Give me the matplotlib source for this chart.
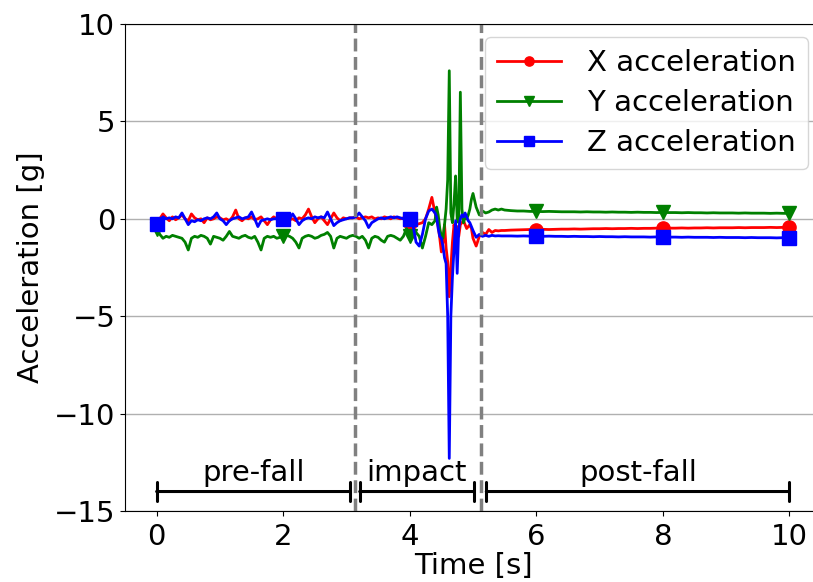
import numpy as np
import matplotlib
matplotlib.use("Agg")
import matplotlib.pyplot as plt

# time axis segments (s)
t_a = np.arange(0.0, 4.40 - 1e-9, 0.05)      # 0.00 .. 4.35
t_b = np.arange(4.40, 5.00 - 1e-9, 0.025)    # 4.400 .. 4.975
t_c = np.arange(5.00, 5.50 - 1e-9, 0.05)     # 5.00 .. 5.45
t_d = np.arange(5.5, 10.0 + 1e-9, 0.1)       # 5.5 .. 10.0
time = np.round(np.concatenate([t_a, t_b, t_c, t_d]), 3)

x_a = [-0.25, 0.0, 0.25, 0.05, -0.1, 0.1, -0.05, 0.05, 0.2, 0.0,
       -0.1, 0.25, 0.05, -0.05, 0.0, -0.2, 0.05, -0.05, 0.0, 0.1,
       0.05, -0.05, 0.0, -0.1, 0.1, 0.45, 0.0, -0.1, 0.05, 0.0,
       0.1, -0.05, 0.0, 0.1, -0.1, -0.3, -0.05, 0.1, 0.0, -0.05,
       0.0, 0.05, -0.05, 0.0, -0.1, 0.05, 0.0, 0.2, 0.5, 0.1,
       -0.2, 0.0, 0.1, -0.1, -0.3, 0.0, 0.3, 0.05, -0.1, 0.05,
       0.0, 0.05, 0.05, 0.1, 0.0, 0.05, 0.1, 0.05, 0.1, 0.0,
       0.05, 0.0, 0.1, 0.05, 0.0, 0.1, 0.05, 0.0, 0.05, -0.1,
       -0.2, -0.1, -0.3, -0.25, -0.2, 0.0, 0.5, 1.1]
x_b = [0.3, 0.0, -0.4, -1.0, -1.7, -1.2, -0.3, -1.5, -2.2, -4.0,
       -2.5, -1.2, -0.3, -0.8, -0.4, -0.9, -0.3, -0.2, -0.1, -0.3,
       -0.5, -0.4, -0.3, -0.5]
x_c = [-1.0, -1.4, -0.9, -0.7, -0.8, -0.55, -0.7, -0.6, -0.62, -0.6]
x_d = [-0.6, -0.58, -0.57, -0.56, -0.55, -0.55,
       -0.54, -0.55, -0.54, -0.53, -0.53,
       -0.52, -0.53, -0.52, -0.51, -0.51,
       -0.5, -0.51, -0.5, -0.5, -0.49,
       -0.5, -0.49, -0.49, -0.48, -0.49,
       -0.48, -0.48, -0.47, -0.48, -0.47,
       -0.47, -0.46, -0.47, -0.46, -0.46,
       -0.46, -0.45, -0.46, -0.45, -0.45,
       -0.45, -0.44, -0.45, -0.44, -0.44]

y_a = [-0.5, -0.8, -1.0, -0.9, -0.95, -0.85, -0.9, -0.95, -1.0, -1.2,
       -1.6, -1.0, -0.9, -0.95, -0.85, -0.9, -1.0, -1.3, -0.9, -0.95,
       -1.0, -1.1, -0.9, -0.65, -0.9, -0.95, -1.0, -0.9, -0.85, -0.95,
       -1.0, -0.9, -1.2, -1.6, -1.0, -0.9, -0.95, -0.9, -1.0, -0.95,
       -0.9, -0.85, -0.9, -1.0, -1.2, -1.5, -1.0, -0.9, -0.85, -0.9,
       -1.0, -0.95, -0.85, -0.8, -0.7, -0.9, -1.5, -1.0, -0.9, -0.95,
       -1.0, -0.9, -0.85, -0.9, -1.0, -0.9, -1.1, -1.5, -1.0, -0.9,
       -0.95, -1.1, -1.2, -0.9, -0.85, -0.9, -1.0, -1.1, -0.9, -0.5,
       -0.9, -0.8, -0.7, -0.9, -1.5, -0.9, -0.2, -0.3]
y_b = [-0.1, 0.6, 0.2, -0.5, -0.9, -1.0, -0.3, 0.5, 2.0, 7.6,
       0.3, -0.2, 0.8, 2.2, 0.0, -0.2, 6.5, 0.5, -0.2, 0.1,
       0.0, 0.2, 0.5, 1.0]
y_c = [1.3, 0.6, 0.2, 0.4, 0.3, 0.35, 0.45, 0.5, 0.45, 0.5]
y_d = [0.45, 0.42, 0.4, 0.4, 0.38, 0.38,
       0.37, 0.38, 0.37, 0.36, 0.36,
       0.36, 0.35, 0.36, 0.35, 0.35,
       0.34, 0.35, 0.34, 0.34, 0.33,
       0.34, 0.33, 0.33, 0.32, 0.33,
       0.32, 0.32, 0.31, 0.32, 0.31,
       0.31, 0.3, 0.31, 0.3, 0.3,
       0.3, 0.29, 0.3, 0.29, 0.29,
       0.29, 0.28, 0.29, 0.28, 0.28]

z_a = [-0.25, -0.2, 0.1, 0.0, 0.05, 0.0, 0.1, 0.05, 0.3, 0.0,
       -0.3, -0.1, -0.15, -0.05, -0.1, 0.0, 0.05, 0.0, 0.1, 0.3,
       0.0, -0.1, -0.3, -0.1, 0.0, 0.05, 0.1, 0.0, 0.05, 0.1,
       0.35, 0.0, -0.4, -0.1, -0.05, 0.0, -0.05, 0.0, 0.0, 0.05,
       0.0, -0.05, 0.0, 0.25, 0.0, -0.3, -0.1, 0.0, 0.05, 0.0,
       0.1, 0.05, 0.1, 0.05, 0.35, 0.0, -0.35, -0.2, -0.1, -0.05,
       0.0, 0.05, 0.05, 0.1, 0.3, 0.1, -0.1, -0.45, -0.2, -0.1,
       0.0, 0.05, 0.0, 0.05, 0.1, 0.05, 0.1, 0.05, 0.0, 0.0,
       0.0, -0.3, -1.2, -1.4, -0.8, 0.0, 0.4, 0.5]
z_b = [0.3, 0.1, -0.5, -0.9, -1.0, -1.4, -2.0, -2.3, -5.0, -12.3,
       -5.0, -3.0, -1.5, -0.1, -2.8, -0.5, 0.0, 0.2, 0.1, 0.3,
       0.1, -0.1, -0.2, -0.4]
z_c = [-0.6, -0.95, -0.8, -0.9, -0.85, -0.9, -0.85, -0.88, -0.87, -0.88]
z_d = [-0.88, -0.88, -0.89, -0.88, -0.89, -0.89,
       -0.9, -0.89, -0.9, -0.9, -0.91,
       -0.9, -0.91, -0.91, -0.92, -0.91,
       -0.92, -0.92, -0.93, -0.92, -0.93,
       -0.93, -0.93, -0.94, -0.93, -0.94,
       -0.94, -0.94, -0.95, -0.94, -0.95,
       -0.95, -0.95, -0.96, -0.95, -0.96,
       -0.96, -0.96, -0.97, -0.96, -0.97,
       -0.97, -0.97, -0.98, -0.97, -0.98]

acc_x = np.array(x_a + x_b + x_c + x_d)
acc_y = np.array(y_a + y_b + y_c + y_d)
acc_z = np.array(z_a + z_b + z_c + z_d)

marker_times = [0, 2, 4, 6, 8, 10]
phase_bounds = [3.13, 5.13]
phases = [("pre-fall", 0.0, 3.05), ("impact", 3.21, 5.01), ("post-fall", 5.21, 10.0)]
labels = ["X acceleration", "Y acceleration", "Z acceleration"]

FS = 21
plt.rcParams['font.family'] = ['DejaVu Sans']

fig = plt.figure(figsize=(8.13, 5.82), dpi=100)
ax = fig.add_axes([125 / 813, 71 / 582, 696 / 813, 487 / 582])

mk_idx = [int(np.argmin(np.abs(time - m))) for m in marker_times]

ax.plot(time, acc_x, color='red', lw=2, marker='o', markersize=9.5, markevery=mk_idx, label=labels[0])
ax.plot(time, acc_y, color='green', lw=2, marker='v', markersize=9.5, markevery=mk_idx, label=labels[1])
ax.plot(time, acc_z, color='blue', lw=2, marker='s', markersize=9.5, markevery=mk_idx, label=labels[2])

for b in phase_bounds:
    ax.axvline(b, color='gray', ls='--', lw=2.5)

for name, a, b in phases:
    ax.annotate('', xy=(a, -14), xytext=(b, -14),
                arrowprops=dict(arrowstyle='|-|', lw=2.2, color='black', shrinkA=0, shrinkB=0,
                                mutation_scale=6.5))
    ax.text((a + b) / 2, -13.75, name, ha='center', va='bottom', fontsize=FS)

ax.set_xlim(-0.5, 10.5)
ax.set_ylim(-15, 10)
ax.set_xticks([0, 2, 4, 6, 8, 10])
ax.set_yticks([-15, -10, -5, 0, 5, 10])
ax.yaxis.grid(True, color='#b0b0b0', lw=1)
ax.set_axisbelow(True)
ax.tick_params(labelsize=FS)
ax.tick_params(axis='x', pad=5)
ax.set_xlabel("Time [s]", fontsize=FS, labelpad=1)
ax.set_ylabel("Acceleration [g]", fontsize=FS, labelpad=6)

ax.legend(loc='upper right', bbox_to_anchor=(0.981, 0.973), borderaxespad=0,
          fontsize=FS, markerscale=0.7, handlelength=2.2, handletextpad=0.9,
          labelspacing=0.42)

fig.savefig("out.png", dpi=100)
